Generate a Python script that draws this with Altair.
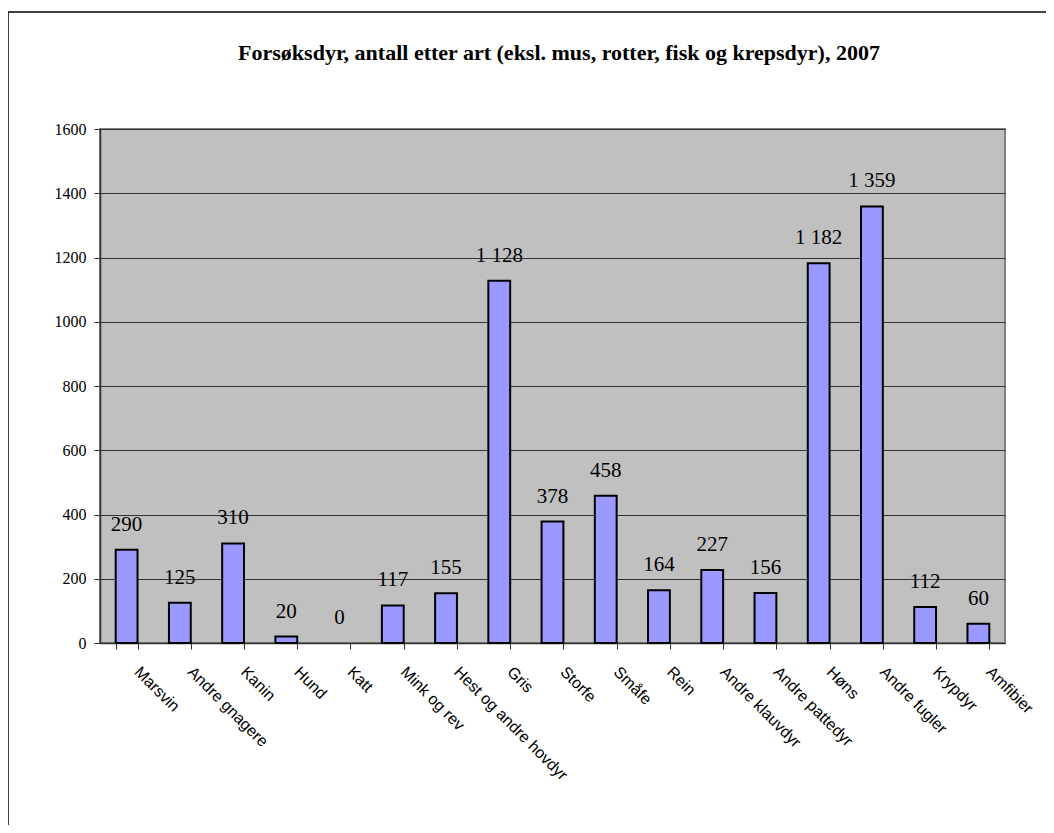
import altair as alt
import pandas as pd

categories = ["Marsvin", "Andre gnagere", "Kanin", "Hund", "Katt", "Mink og rev",
              "Hest og andre hovdyr", "Gris", "Storfe", "Småfe", "Rein",
              "Andre klauvdyr", "Andre pattedyr", "Høns", "Andre fugler",
              "Krypdyr", "Amfibier"]
values = [290, 125, 310, 20, 0, 117, 155, 1128, 378, 458, 164, 227, 156, 1182, 1359, 112, 60]
value_labels = ["290", "125", "310", "20", "0", "117", "155", "1 128", "378", "458",
                "164", "227", "156", "1 182", "1 359", "112", "60"]
y_ticks = [0, 200, 400, 600, 800, 1000, 1200, 1400, 1600]
title = "Forsøksdyr, antall etter art (eksl. mus, rotter, fisk og krepsdyr), 2007"

df = pd.DataFrame({"art": categories, "antall": values, "label": value_labels})
tdf = pd.DataFrame({"t": [title]})

W, H = 905, 514
SERIF = "Liberation Serif"

x = alt.X("art:N", sort=categories, title=None,
          scale=alt.Scale(paddingInner=0.59, paddingOuter=0.295),
          axis=alt.Axis(labelAngle=45, labelAlign="left", labelBaseline="middle",
                        labelFont="Liberation Sans", labelFontSize=16, labelColor="black",
                        labelPadding=20, labelOffset=10, tickBand="extent",
                        tickColor="#333333", tickSize=6,
                        domainColor="#333333", domainWidth=1.5, labelLimit=400))
y = alt.Y("antall:Q", title=None,
          scale=alt.Scale(domain=[0, 1600], nice=False),
          axis=alt.Axis(values=y_ticks, format="d", labelFont=SERIF, labelFontSize=16,
                        labelColor="black", tickColor="#333333", tickSize=6,
                        domainColor="#333333", domainWidth=1.5, grid=True,
                        gridColor="#333333", gridWidth=1, labelPadding=8))

bars = alt.Chart(df).mark_bar(color="#9999FF", stroke="black", strokeWidth=2).encode(
    x=x, y=y,
    strokeOpacity=alt.condition("datum.antall > 0", alt.value(1), alt.value(0)))
text = alt.Chart(df).mark_text(font=SERIF, fontSize=21, baseline="alphabetic",
                               dy=-19, color="black").encode(x=x, y=y, text="label:N")

title_mark = alt.Chart(tdf).mark_text(font=SERIF, fontSize=22, fontWeight="bold",
                                      color="black", baseline="alphabetic",
                                      clip=False).encode(
    x=alt.value(459), y=alt.value(-69), text="t:N")

frame_top = alt.Chart(tdf).mark_rule(color="black", strokeWidth=1.5, clip=False).encode(
    x=alt.value(-95), x2=alt.value(W + 60), y=alt.value(-117))
frame_left = alt.Chart(tdf).mark_rule(color="black", strokeWidth=1.5, clip=False).encode(
    x=alt.value(-92), y=alt.value(-117), y2=alt.value(H + 200))

chart = alt.layer(frame_top, frame_left, title_mark, bars, text).properties(
    width=W, height=H,
    autosize=alt.AutoSizeParams(type="none"),
    padding={"left": 92, "top": 121, "right": 41, "bottom": 182},
).configure(background="white").configure_view(fill="#C0C0C0", stroke="#808080",
                                                strokeWidth=2)

chart.save("out.html", embed_options={"renderer": "svg", "actions": False})
